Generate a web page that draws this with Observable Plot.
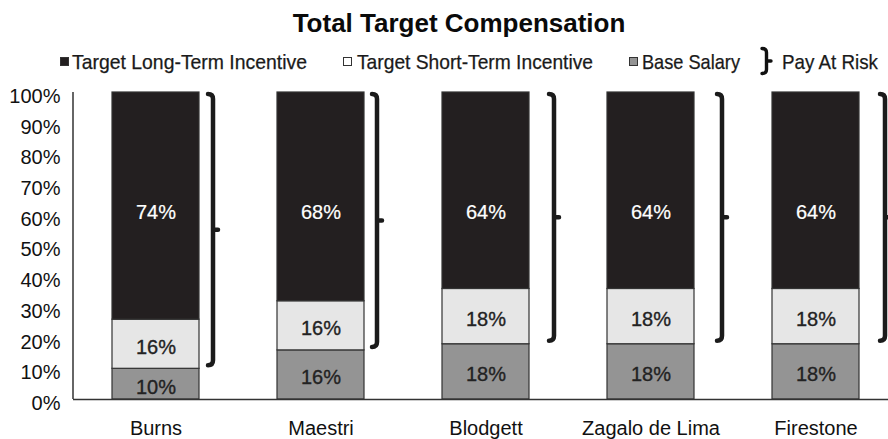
<!DOCTYPE html>
<html>
<head>
<meta charset="utf-8">
<script src="https://cdn.jsdelivr.net/npm/d3@7"></script>
<script src="https://cdn.jsdelivr.net/npm/@observablehq/plot@0.6"></script>
<style>
  html, body { margin: 0; padding: 0; background: #fff; }
  #wrap { position: relative; width: 888px; height: 439px; overflow: hidden; font-family: "Liberation Sans", Arial, sans-serif; color: #111; }
  #header { position: relative; width: 888px; height: 80px; }
  #title { position: absolute; left: 0; top: 8px; width: 918px; height: 30px; line-height: 30px; text-align: center; font-weight: bold; font-size: 26px; color: #0a0a0a; white-space: nowrap; }
  #legend { position: absolute; left: 0; top: 47px; height: 30px; width: 888px; font-family: "Liberation Sans", Arial, sans-serif; color: #1a1a1a; white-space: nowrap; }
  .lt { position: absolute; top: 0; height: 30px; line-height: 30px; white-space: nowrap; font-size: 21px; transform-origin: 0 50%; -webkit-text-stroke: 0.25px #1a1a1a; }
  .sw { position: absolute; top: 10px; width: 7px; height: 7px; border: 1px solid #333; box-sizing: content-box; }
  svg { display: block; }
</style>
</head>
<body>
<div id="wrap">
  <div id="header">
    <div id="title">Total Target Compensation</div>
    <div id="legend"></div>
  </div>
  <div id="chart"></div>
</div>
<script>
// ---- data ----
const names = ["Burns", "Maestri", "Blodgett", "Zagalo de Lima", "Firestone"];
const seriesNames = ["Target Long-Term Incentive", "Target Short-Term Incentive", "Base Salary"];
const longTerm = [74, 68, 64, 64, 64];
const shortTerm = [16, 16, 18, 18, 18];
const baseSalary = [10, 16, 18, 18, 18];
const yTicks = [0, 10, 20, 30, 40, 50, 60, 70, 80, 90, 100];
const riskLabel = "Pay At Risk";

// ---- styles / layout ----
const colors = ["#231f20", "#e6e6e6", "#949494"];
const bracketGap = [14, 13, 25, 28, 26];
const legendSwatchX = [60, 343, 629];
const legendTextX = [72, 357, 642, 782];
const legendTextW = [235, 236, 98, 96];

const rows = [];
names.forEach((n, i) => {
  rows.push({name: n, series: seriesNames[2], value: baseSalary[i]});
  rows.push({name: n, series: seriesNames[1], value: shortTerm[i]});
  rows.push({name: n, series: seriesNames[0], value: longTerm[i]});
});
const stackOrder = [seriesNames[2], seriesNames[1], seriesNames[0]];
const lowerRows = rows.filter(d => d.series !== seriesNames[0]);
const topRows = rows.filter(d => d.series === seriesNames[0]);

// legend (HTML): condensed to the reference text widths
const legend = document.getElementById("legend");
const labels = [...seriesNames, riskLabel];
labels.forEach((s, i) => {
  const t = document.createElement("span");
  t.className = "lt";
  t.style.left = legendTextX[i] + "px";
  t.textContent = s;
  legend.appendChild(t);
  const w = t.getBoundingClientRect().width;
  t.style.transform = `scaleX(${(legendTextW[i] / w).toFixed(4)})`;
});
seriesNames.forEach((s, i) => {
  const sw = document.createElement("span");
  sw.className = "sw";
  sw.style.left = legendSwatchX[i] + "px";
  sw.style.background = i === 1 ? "#ffffff" : colors[i];
  legend.appendChild(sw);
});
const bdiv = document.createElement("div");
bdiv.style.position = "absolute";
bdiv.style.left = "759px";
bdiv.style.top = "-1px";
bdiv.innerHTML = '<svg width="18" height="30" viewBox="0 0 18 30"><path d="M3,2.5 Q7.5,2.5 7.5,6.5 L7.5,23.5 Q7.5,27.5 3,27.5 M7.5,15 L12,15" fill="none" stroke="#111" stroke-width="3.4" stroke-linecap="round"/></svg>';
legend.appendChild(bdiv);

// brackets + y axis line (custom render)
function brackets(index, scales, values, dimensions) {
  const x = scales.x, y = scales.y;
  const bw = typeof x.bandwidth === "function" ? x.bandwidth() : (scales.scales && scales.scales.x ? scales.scales.x.bandwidth : 87);
  const g = d3.create("svg:g");
  g.append("line")
    .attr("x1", dimensions.marginLeft).attr("x2", dimensions.marginLeft)
    .attr("y1", y(100)).attr("y2", y(0))
    .attr("stroke", "#333").attr("stroke-width", 1.5);
  const bg = g.append("g").attr("fill", "none").attr("stroke", "#1b1b1b")
    .attr("stroke-width", 4.5).attr("stroke-linecap", "round");
  names.forEach((n, i) => {
    const bx = x(n) + bw + bracketGap[i];
    const top = y(100) + 2, bot = y(baseSalary[i]) - 3;
    const mid = (top + bot) / 2;
    bg.append("path").attr("d",
      `M${bx - 5},${top} Q${bx},${top} ${bx},${top + 5} L${bx},${bot - 5} Q${bx},${bot} ${bx - 5},${bot} M${bx},${mid} L${bx + 5},${mid}`);
  });
  return g.node();
}

const plot = Plot.plot({
  width: 888,
  height: 359,
  marginTop: 12,
  marginBottom: 40,
  marginLeft: 73,
  marginRight: 0,
  style: {fontFamily: "'Liberation Sans', Arial, sans-serif", fontSize: "20px", color: "#111", background: "transparent"},
  x: {domain: names, range: [73, 898], paddingInner: 0.473, paddingOuter: 0.2365, align: 0.5, axis: null, label: null},
  y: {domain: [0, 100], axis: null, label: null},
  color: {domain: seriesNames, range: colors},
  marks: [
    Plot.barY(rows, Plot.stackY({x: "name", y: "value", z: "series", order: stackOrder, fill: "series", stroke: "#333", strokeWidth: 1.2})),
    Plot.text(lowerRows, Plot.stackY({x: "name", y: "value", z: "series", order: stackOrder, text: d => d.value + "%", fill: "#222", stroke: "#222", strokeWidth: 0.35, dy: 3, fontSize: 20})),
    Plot.text(topRows, {x: "name", y: () => 61, text: d => d.value + "%", fill: "#fff", stroke: "#fff", strokeWidth: 0.2, fontSize: 20}),
    Plot.ruleY([0], {stroke: "#333", strokeWidth: 1.5}),
    Plot.axisY({ticks: yTicks, tickFormat: d => d + "%", tickSize: 0, tickPadding: 13, dy: 4, fontSize: 20, fill: "#111", stroke: "#111", strokeWidth: 0.5, label: null}),
    Plot.axisX({tickSize: 0, tickPadding: 21, fontSize: 20, fill: "#111", stroke: "#111", strokeWidth: 0.4, label: null}),
    brackets
  ]
});
document.getElementById("chart").appendChild(plot);
</script>
</body>
</html>
